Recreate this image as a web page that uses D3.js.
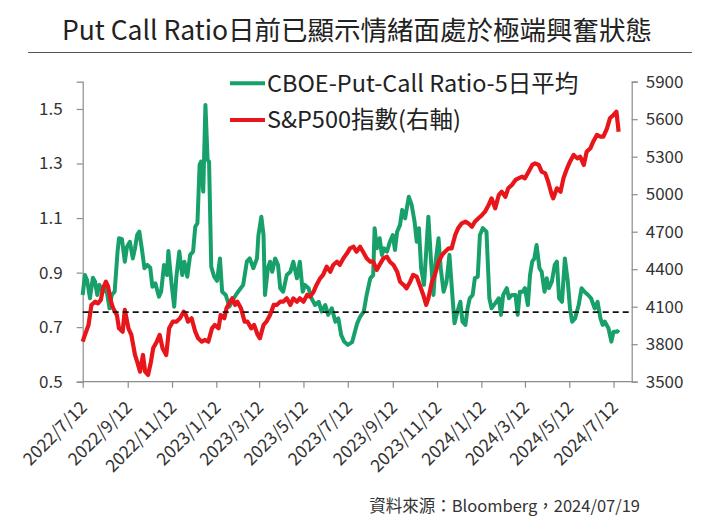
<!DOCTYPE html>
<html><head><meta charset="utf-8">
<script src="https://cdn.jsdelivr.net/npm/d3@7/dist/d3.min.js"></script>
<style>
html,body{margin:0;padding:0;background:#fff;}
svg{display:block;}
text{font-family:"Noto Sans CJK TC","Noto Sans",sans-serif;}
</style></head>
<body>
<script>
// ---------- data ----------
const titleText = "Put Call Ratio日前已顯示情緒面處於極端興奮狀態";
const sourceText = "資料來源：Bloomberg，2024/07/19";
const legendLabels = ["CBOE-Put-Call Ratio-5日平均", "S&P500指數(右軸)"];
const xTickLabels = ["2022/7/12","2022/9/12","2022/11/12","2023/1/12","2023/3/12","2023/5/12","2023/7/12","2023/9/12","2023/11/12","2024/1/12","2024/3/12","2024/5/12","2024/7/12"];
const xDomain = ["2022-07-12","2024-08-06"];
const leftDomain = [0.5, 1.6];
const leftTicks = [0.5, 0.7, 0.9, 1.1, 1.3, 1.5];
const rightDomain = [3500, 5900];
const rightTicks = [3500, 3800, 4100, 4400, 4700, 5000, 5300, 5600, 5900];
const thresholdValue = 0.755;

const pcrDates = ["2022-07-12","2022-07-15","2022-07-18","2022-07-22","2022-07-26","2022-07-29","2022-08-01","2022-08-04","2022-08-09","2022-08-13","2022-08-18","2022-08-21","2022-08-25","2022-08-29","2022-08-31","2022-09-04","2022-09-08","2022-09-11","2022-09-15","2022-09-19","2022-09-22","2022-09-25","2022-09-28","2022-10-02","2022-10-05","2022-10-09","2022-10-13","2022-10-16","2022-10-20","2022-10-25","2022-10-28","2022-11-01","2022-11-05","2022-11-07","2022-11-11","2022-11-15","2022-11-18","2022-11-22","2022-11-26","2022-11-29","2022-12-03","2022-12-07","2022-12-11","2022-12-14","2022-12-17","2022-12-20","2022-12-22","2022-12-25","2022-12-28","2022-12-31","2023-01-02","2023-01-05","2023-01-09","2023-01-13","2023-01-17","2023-01-20","2023-01-25","2023-01-30","2023-02-05","2023-02-11","2023-02-18","2023-02-23","2023-02-27","2023-03-04","2023-03-09","2023-03-11","2023-03-15","2023-03-18","2023-03-20","2023-03-24","2023-03-27","2023-03-30","2023-04-03","2023-04-07","2023-04-10","2023-04-14","2023-04-19","2023-04-24","2023-04-28","2023-05-03","2023-05-07","2023-05-11","2023-05-14","2023-05-19","2023-05-23","2023-05-28","2023-06-02","2023-06-06","2023-06-11","2023-06-15","2023-06-20","2023-06-25","2023-06-29","2023-07-03","2023-07-07","2023-07-12","2023-07-18","2023-07-25","2023-07-29","2023-08-03","2023-08-07","2023-08-12","2023-08-16","2023-08-18","2023-08-21","2023-08-25","2023-08-28","2023-08-31","2023-09-04","2023-09-08","2023-09-12","2023-09-15","2023-09-18","2023-09-22","2023-09-25","2023-09-29","2023-10-04","2023-10-08","2023-10-12","2023-10-15","2023-10-18","2023-10-21","2023-10-25","2023-10-28","2023-10-31","2023-11-04","2023-11-07","2023-11-10","2023-11-14","2023-11-17","2023-11-21","2023-11-25","2023-11-29","2023-12-03","2023-12-06","2023-12-10","2023-12-14","2023-12-17","2023-12-21","2023-12-24","2023-12-27","2023-12-31","2024-01-03","2024-01-07","2024-01-10","2024-01-14","2024-01-19","2024-01-23","2024-01-26","2024-01-31","2024-02-05","2024-02-08","2024-02-11","2024-02-16","2024-02-19","2024-02-23","2024-02-28","2024-03-02","2024-03-05","2024-03-09","2024-03-12","2024-03-16","2024-03-19","2024-03-22","2024-03-25","2024-03-28","2024-04-01","2024-04-04","2024-04-08","2024-04-11","2024-04-14","2024-04-18","2024-04-22","2024-04-25","2024-04-28","2024-05-02","2024-05-06","2024-05-10","2024-05-13","2024-05-16","2024-05-20","2024-05-25","2024-05-29","2024-06-02","2024-06-07","2024-06-11","2024-06-16","2024-06-20","2024-06-24","2024-06-27","2024-06-30","2024-07-05","2024-07-09","2024-07-12","2024-07-17","2024-07-19"];
const pcrValues = [0.818,0.891,0.873,0.806,0.881,0.867,0.818,0.855,0.830,0.848,0.769,0.818,0.830,0.977,1.026,1.023,0.940,0.995,1.013,0.952,0.989,1.038,1.050,0.977,0.916,0.928,0.918,0.848,0.861,0.812,0.830,0.928,0.891,0.979,0.867,0.775,0.885,0.977,0.891,0.940,0.885,0.965,0.977,1.068,1.081,1.295,1.307,1.197,1.515,1.313,1.307,0.922,0.885,0.870,0.952,0.830,0.818,0.775,0.806,0.830,0.855,0.940,0.952,0.916,0.952,1.038,1.105,1.038,0.818,0.916,0.940,0.903,0.952,0.928,0.843,0.830,0.891,0.903,0.940,0.879,0.940,0.830,0.855,0.843,0.806,0.781,0.793,0.757,0.781,0.745,0.769,0.720,0.732,0.671,0.647,0.635,0.645,0.714,0.738,0.757,0.818,0.879,0.891,1.063,0.989,1.026,0.965,0.989,0.977,1.013,1.038,0.983,1.050,1.075,1.130,1.099,1.178,1.148,1.087,1.013,1.063,0.916,0.855,0.977,1.105,0.928,0.818,0.940,1.026,0.916,0.830,0.867,0.965,0.818,0.714,0.757,0.793,0.720,0.708,0.769,0.806,0.818,0.879,0.885,1.038,1.063,1.050,0.806,0.769,0.787,0.806,0.745,0.818,0.843,0.806,0.818,0.818,0.745,0.830,0.830,0.843,0.781,0.891,0.940,0.952,1.001,0.916,0.903,0.830,0.879,0.843,0.867,0.928,0.940,0.806,0.793,0.952,0.867,0.769,0.720,0.732,0.781,0.843,0.830,0.818,0.806,0.769,0.793,0.732,0.708,0.720,0.696,0.647,0.683,0.683,0.690];

const spxDates = ["2022-07-12","2022-07-15","2022-07-20","2022-07-24","2022-07-29","2022-08-02","2022-08-06","2022-08-09","2022-08-13","2022-08-16","2022-08-20","2022-08-23","2022-08-28","2022-08-31","2022-09-05","2022-09-08","2022-09-13","2022-09-17","2022-09-22","2022-09-25","2022-09-29","2022-10-03","2022-10-06","2022-10-10","2022-10-14","2022-10-17","2022-10-22","2022-10-26","2022-10-30","2022-11-04","2022-11-08","2022-11-13","2022-11-18","2022-11-23","2022-11-28","2022-12-01","2022-12-04","2022-12-09","2022-12-14","2022-12-18","2022-12-23","2022-12-27","2023-01-01","2023-01-06","2023-01-10","2023-01-15","2023-01-18","2023-01-23","2023-01-26","2023-01-31","2023-02-03","2023-02-07","2023-02-10","2023-02-15","2023-02-20","2023-02-24","2023-03-01","2023-03-05","2023-03-10","2023-03-13","2023-03-18","2023-03-22","2023-03-27","2023-04-01","2023-04-05","2023-04-10","2023-04-14","2023-04-19","2023-04-24","2023-04-28","2023-05-03","2023-05-07","2023-05-12","2023-05-17","2023-05-21","2023-05-26","2023-05-30","2023-06-04","2023-06-08","2023-06-13","2023-06-18","2023-06-22","2023-06-27","2023-07-01","2023-07-06","2023-07-11","2023-07-15","2023-07-20","2023-07-24","2023-07-29","2023-08-02","2023-08-07","2023-08-12","2023-08-16","2023-08-21","2023-08-26","2023-08-30","2023-09-04","2023-09-08","2023-09-13","2023-09-18","2023-09-22","2023-09-27","2023-10-01","2023-10-06","2023-10-10","2023-10-15","2023-10-20","2023-10-24","2023-10-28","2023-10-31","2023-11-05","2023-11-09","2023-11-14","2023-11-19","2023-11-23","2023-11-28","2023-12-02","2023-12-07","2023-12-11","2023-12-16","2023-12-21","2023-12-25","2023-12-30","2024-01-03","2024-01-08","2024-01-13","2024-01-17","2024-01-22","2024-01-26","2024-01-31","2024-02-05","2024-02-09","2024-02-14","2024-02-18","2024-02-23","2024-02-28","2024-03-03","2024-03-08","2024-03-12","2024-03-17","2024-03-22","2024-03-26","2024-03-31","2024-04-04","2024-04-09","2024-04-13","2024-04-18","2024-04-20","2024-04-25","2024-04-30","2024-05-04","2024-05-09","2024-05-13","2024-05-18","2024-05-23","2024-05-27","2024-06-01","2024-06-05","2024-06-10","2024-06-14","2024-06-19","2024-06-24","2024-06-28","2024-07-03","2024-07-07","2024-07-12","2024-07-16","2024-07-18","2024-07-19"];
const spxValues = [3820,3874,3954,4114,4140,4127,4154,4247,4300,4260,4140,4087,4034,3927,3900,4074,3927,3874,3714,3660,3580,3714,3580,3554,3660,3767,3820,3874,3767,3714,3927,3980,3980,4007,4060,4034,3980,4007,3900,3847,3820,3834,3820,3927,3954,3927,4034,4007,4087,4140,4167,4114,4140,4087,3980,3980,3927,3954,3874,3847,3954,3980,4034,4114,4114,4140,4140,4167,4114,4167,4140,4167,4140,4194,4180,4220,4274,4327,4354,4420,4380,4434,4460,4434,4487,4527,4567,4580,4540,4580,4540,4487,4460,4460,4394,4447,4487,4500,4460,4434,4380,4300,4274,4247,4300,4354,4340,4260,4194,4114,4167,4300,4354,4460,4514,4540,4567,4567,4674,4727,4767,4780,4767,4740,4780,4807,4834,4860,4914,4967,4887,4994,5020,4980,5047,5074,5114,5127,5140,5127,5180,5234,5247,5234,5180,5167,5100,4994,4967,5047,5020,5127,5207,5260,5314,5287,5300,5234,5340,5367,5420,5474,5460,5460,5527,5607,5634,5660,5554,5500];

// ---------- layout ----------
const W = 725, H = 523;
const plot = {left: 82.7, right: 631.7, top: 81.7, bottom: 381.7};
const greenColor = "#17a06a", redColor = "#e8161b";
const axisColor = "#8c8c8c", textColor = "#333";

const parseISO = d3.timeParse("%Y-%m-%d");
const parseLbl = d3.timeParse("%Y/%m/%d");

const svg = d3.select("body").append("svg").attr("width", W).attr("height", H);

const x = d3.scaleTime().domain(xDomain.map(parseISO)).range([plot.left, plot.right]);
const yL = d3.scaleLinear().domain(leftDomain).range([plot.bottom, plot.top]);
const yR = d3.scaleLinear().domain(rightDomain).range([plot.bottom, plot.top]);

// title
svg.append("text").attr("x", 357).attr("y", 40).attr("text-anchor", "middle")
  .attr("font-size", 26.5).attr("fill", "#222").text(titleText);
svg.append("line").attr("x1", 28).attr("x2", 692).attr("y1", 52.5).attr("y2", 52.5)
  .attr("stroke", "#555").attr("stroke-width", 1.2);

// axes
const gL = svg.append("g").attr("transform", `translate(${plot.left},0)`)
  .call(d3.axisLeft(yL).tickValues(leftTicks).tickFormat(d3.format(".1f")).tickSize(6).tickPadding(14));
const gR = svg.append("g").attr("transform", `translate(${plot.right},0)`)
  .call(d3.axisRight(yR).tickValues(rightTicks).tickFormat(d3.format("d")).tickSize(6).tickPadding(8));
const gB = svg.append("g").attr("transform", `translate(0,${plot.bottom})`)
  .call(d3.axisBottom(x).tickValues(xTickLabels.map(parseLbl)).tickFormat((d,i) => xTickLabels[i]).tickSize(6));
[gL, gR, gB].forEach(g => {
  g.selectAll(".domain").attr("stroke", axisColor).attr("stroke-width", 1.2);
  g.selectAll(".tick line").attr("stroke", axisColor).attr("stroke-width", 1.2);
  g.selectAll("text").attr("fill", textColor).attr("font-size", 17)
    .attr("font-family", '"Noto Sans CJK TC","Noto Sans",sans-serif');
});
gB.selectAll(".domain").attr("d", `M${plot.left},0H${plot.right}`);
gB.selectAll(".tick text").attr("text-anchor", "end").attr("dy", null).attr("y", null)
  .attr("transform", "translate(5,27) rotate(-45)").attr("font-size", 17.5);

// lines
const pcr = pcrDates.map((d, i) => ({date: parseISO(d), v: pcrValues[i]}));
const spx = spxDates.map((d, i) => ({date: parseISO(d), v: spxValues[i]}));

svg.append("path").datum(pcr)
  .attr("d", d3.line().x(d => x(d.date)).y(d => yL(d.v)))
  .attr("fill", "none").attr("stroke", greenColor).attr("stroke-width", 4).attr("stroke-linejoin", "round");
svg.append("path").datum(spx)
  .attr("d", d3.line().x(d => x(d.date)).y(d => yR(d.v)))
  .attr("fill", "none").attr("stroke", redColor).attr("stroke-width", 4.2).attr("stroke-linejoin", "round");

// threshold dashed line
svg.append("line").attr("x1", plot.left).attr("x2", plot.right)
  .attr("y1", yL(thresholdValue)).attr("y2", yL(thresholdValue))
  .attr("stroke", "#111").attr("stroke-width", 1.6).attr("stroke-dasharray", "6,4");

// legend
const lg = svg.append("g");
[[greenColor, 83.3], [redColor, 120]].forEach(([c, ly], i) => {
  lg.append("line").attr("x1", 230).attr("x2", 265).attr("y1", ly).attr("y2", ly)
    .attr("stroke", c).attr("stroke-width", 4);
  lg.append("text").attr("x", 267).attr("y", ly).attr("dy", "0.35em")
    .attr("font-size", 23.5).attr("fill", "#222").text(legendLabels[i]);
});

// source
svg.append("text").attr("x", 640).attr("y", 512).attr("text-anchor", "end")
  .attr("font-size", 16.5).attr("fill", textColor).text(sourceText);
</script>
</body></html>
